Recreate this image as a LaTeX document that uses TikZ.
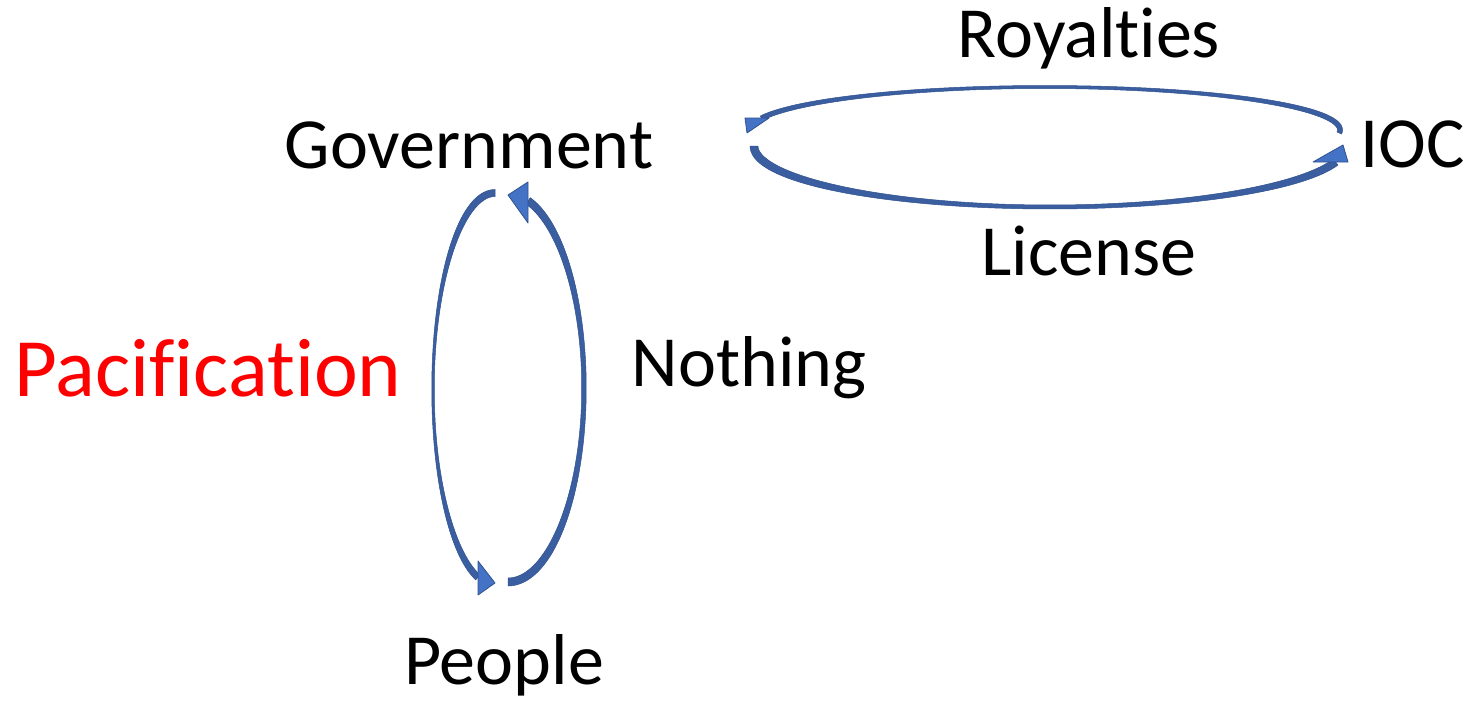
\documentclass[tikz,border=0pt]{standalone}
\usepackage{fontspec}
\setmainfont{Carlito}[RawFeature={-liga}]
\definecolor{lineblue}{HTML}{2F528F}
\definecolor{bodyblue}{HTML}{3A5E9F}
\definecolor{headblue}{HTML}{4472C4}
\definecolor{pacred}{HTML}{FF0000}

% tapered elliptical band: centre, half axes, from/to angle, width at sides, width at top/bottom
\newcommand{\loopbody}[8]{%
  \filldraw[loopfill] plot[domain=#5:#6, samples=90, variable=\t]
    ({#1+#3*cos(\t)+0.5*(#8+(#7-#8)*cos(\t)*cos(\t))*0.01*#4*cos(\t)/sqrt((0.01*#4*cos(\t))*(0.01*#4*cos(\t))+(0.01*#3*sin(\t))*(0.01*#3*sin(\t)))},
     {#2+#4*sin(\t)+0.5*(#8+(#7-#8)*cos(\t)*cos(\t))*0.01*#3*sin(\t)/sqrt((0.01*#4*cos(\t))*(0.01*#4*cos(\t))+(0.01*#3*sin(\t))*(0.01*#3*sin(\t)))})
    -- plot[domain=#6:#5, samples=90, variable=\t]
    ({#1+#3*cos(\t)-0.5*(#8+(#7-#8)*cos(\t)*cos(\t))*0.01*#4*cos(\t)/sqrt((0.01*#4*cos(\t))*(0.01*#4*cos(\t))+(0.01*#3*sin(\t))*(0.01*#3*sin(\t)))},
     {#2+#4*sin(\t)-0.5*(#8+(#7-#8)*cos(\t)*cos(\t))*0.01*#3*sin(\t)/sqrt((0.01*#4*cos(\t))*(0.01*#4*cos(\t))+(0.01*#3*sin(\t))*(0.01*#3*sin(\t)))})
    -- cycle;}

\begin{document}
\begin{tikzpicture}[x=1pt, y=-1pt,
    loopfill/.style={fill=bodyblue, draw=lineblue, line width=0.5pt},
    loophead/.style={fill=headblue, draw=lineblue, line width=0.8pt, line join=round},
    label/.style={inner sep=0pt, anchor=base, font=\fontsize{72}{86}\selectfont}]
    \useasboundingbox (0,0) rectangle (1473,701);

    \node[label] (gov) at (469,168) {Government};
    \node[label] (roy) at (1089,58) {Royalties};
    \node[label, anchor=base west] (ioc) at (1360,167) {IOC};
    \node[label] (lic) at (1089,275) {License};
    \node[label] (noth) at (749,386) {Nothing};
    \node[label] (ppl) at (504,684) {People};
    \node[label, text=pacred, font=\fontsize{83}{98}\selectfont] (pac) at (208,396) {Pacification};

    % Government <-> People
    \loopbody{495}{389}{62}{196}{-90}{-254}{2.5}{7}
    \filldraw[loophead] (478,561) -- (478,595) -- (495,583) -- cycle;
    \loopbody{508}{388}{76}{194}{90}{-74.7}{4.5}{8}
    \filldraw[loophead] (528,182) -- (528,223) -- (508,195) -- cycle;

    % Government <-> IOC
    \loopbody{1045}{130}{295}{43}{4}{-164}{5}{3}
    \filldraw[loophead] (745,118) -- (769,118) -- (747,133) -- cycle;
    \loopbody{1050}{146}{296}{61}{180}{15.2}{8}{4}
    \filldraw[loophead] (1313,162) -- (1348,162) -- (1343,145) -- cycle;
\end{tikzpicture}
\end{document}
